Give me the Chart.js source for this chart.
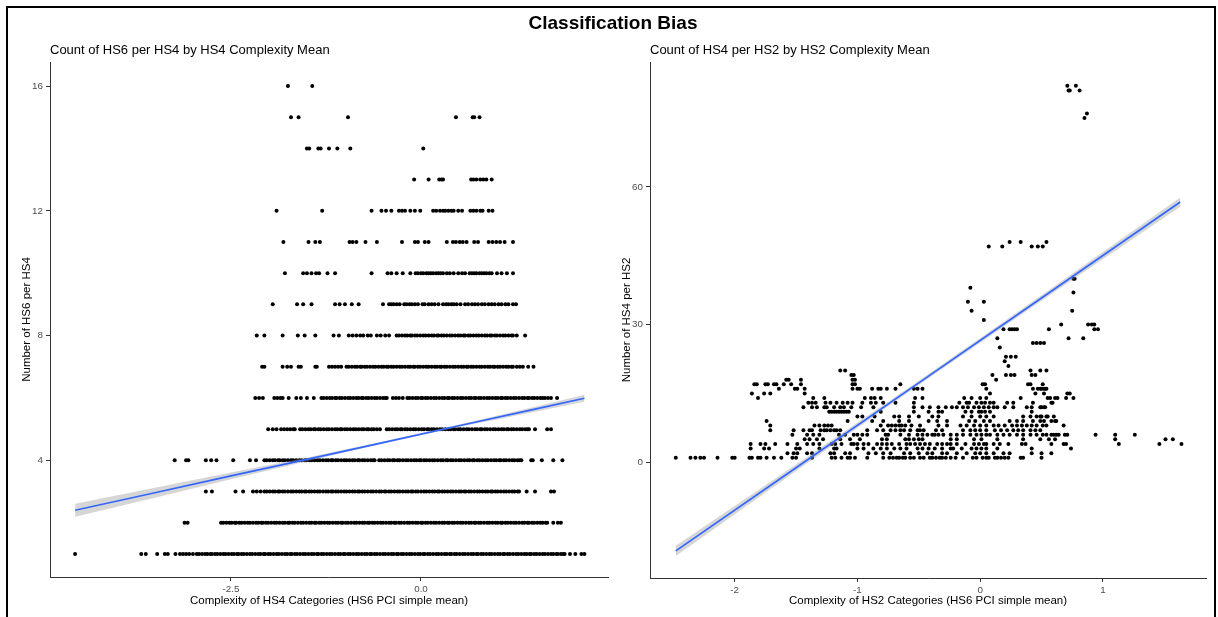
<!DOCTYPE html>
<html>
<head>
<meta charset="utf-8">
<title>Classification Bias</title>
<script src="https://cdn.jsdelivr.net/npm/chart.js@4.4.1/dist/chart.umd.min.js"></script>
<style>
  html, body { margin: 0; padding: 0; background: #fff; }
  body { width: 1218px; height: 617px; position: relative; overflow: hidden;
         font-family: "Liberation Sans", Arial, sans-serif; }
  .panel { position: absolute; top: 0; }
  #hs4Panel { left: 0; width: 612px; height: 617px; }
  #hs2Panel { left: 612px; width: 606px; height: 617px; }
  #frame { position: absolute; left: 6px; top: 6px; width: 1210px; height: 700px;
           border: 2px solid #000; box-sizing: border-box; pointer-events: none; }
  #mainTitle { position: absolute; left: 0; top: 12px; width: 1226px; text-align: center;
               font-weight: bold; font-size: 19px; line-height: 22px; color: #000; }
  .subtitle { position: absolute; top: 42px; font-size: 13px; line-height: 16px; color: #000; white-space: nowrap; }
</style>
</head>
<body>
<div id="hs4Panel" class="panel"><canvas id="hs4Chart" width="612" height="617"></canvas></div>
<div id="hs2Panel" class="panel"><canvas id="hs2Chart" width="606" height="617"></canvas></div>
<div id="mainTitle">Classification Bias</div>
<div class="subtitle" style="left:50px">Count of HS6 per HS4 by HS4 Complexity Mean</div>
<div class="subtitle" style="left:650px">Count of HS4 per HS2 by HS2 Complexity Mean</div>
<div id="frame"></div>
<script>
// ---- HS4 panel: number of HS6 codes per HS4 heading vs. mean complexity ----
const hs4Counts = [1, 2, 3, 4, 5, 6, 7, 8, 9, 10, 11, 12, 13, 14, 15, 16];
const hs4Complexity = [
  [-4.55,-3.68,-3.62,-3.47,-3.37,-3.33,-3.23,-3.17,-3.13,-3.09,-3.05,-3.00,
   -2.95,-2.92,-2.88,-2.84,-2.81,-2.77,-2.75,-2.71,-2.68,-2.64,-2.60,-2.57,-2.53,-2.49,-2.46,-2.42,-2.40,-2.36,-2.33,-2.29,-2.25,-2.22,-2.18,-2.14,-2.11,-2.07,-2.05,-2.01,-1.98,-1.94,-1.90,-1.87,-1.83,-1.79,-1.76,-1.72,-1.70,-1.66,-1.63,-1.59,-1.55,-1.52,-1.48,-1.44,-1.41,-1.37,-1.35,-1.31,-1.28,-1.24,-1.20,-1.17,-1.13,-1.09,-1.06,-1.02,-1.00,-0.96,-0.93,-0.89,-0.85,-0.82,-0.78,-0.74,-0.71,-0.67,-0.65,-0.61,-0.58,-0.54,-0.50,-0.47,-0.43,-0.39,-0.36,-0.32,-0.30,-0.26,-0.23,-0.19,-0.15,-0.12,-0.08,-0.04,-0.01,0.03,0.05,0.09,0.12,0.16,0.20,0.23,0.27,0.31,0.34,0.38,0.40,0.44,0.47,0.51,0.55,0.58,0.62,0.66,0.69,0.73,0.75,0.79,0.82,0.86,0.90,0.93,0.97,1.01,1.04,1.08,1.10,1.14,1.17,1.21,1.25,1.28,1.32,1.36,1.39,1.43,1.45,1.49,1.52,1.56,1.60,1.63,1.67,1.71,1.74,1.78,1.80,1.84,1.87,1.89,
   1.96,2.03,2.11,2.15],
  [-3.11,-3.07,
   -2.63,-2.60,-2.56,-2.52,-2.49,-2.45,-2.43,-2.39,-2.36,-2.32,-2.28,-2.25,-2.21,-2.17,-2.14,-2.10,-2.08,-2.04,-2.01,-1.97,-1.93,-1.90,-1.86,-1.82,-1.79,-1.75,-1.73,-1.69,-1.66,-1.62,-1.58,-1.55,-1.51,-1.47,-1.44,-1.40,-1.38,-1.34,-1.31,-1.27,-1.23,-1.20,-1.16,-1.12,-1.09,-1.05,-1.03,-0.99,-0.96,-0.92,-0.88,-0.85,-0.81,-0.77,-0.74,-0.70,-0.68,-0.64,-0.61,-0.57,-0.53,-0.50,-0.46,-0.42,-0.39,-0.35,-0.33,-0.29,-0.26,-0.22,-0.18,-0.15,-0.11,-0.07,-0.04,0.00,0.02,0.06,0.09,0.13,0.17,0.20,0.24,0.28,0.31,0.35,0.37,0.41,0.44,0.48,0.52,0.55,0.59,0.63,0.66,0.70,0.72,0.76,0.79,0.83,0.87,0.90,0.94,0.98,1.01,1.05,1.07,1.11,1.14,1.18,1.22,1.25,1.29,1.33,1.36,1.40,1.42,1.46,1.49,1.53,1.57,1.60,1.64,1.66,
   1.74,1.80,1.84],
  [-2.83,-2.75,-2.44,-2.34,-2.21,-2.16,-2.11,
   -2.06,-2.03,-1.99,-1.95,-1.92,-1.88,-1.86,-1.82,-1.79,-1.75,-1.71,-1.68,-1.64,-1.60,-1.57,-1.53,-1.51,-1.47,-1.44,-1.40,-1.36,-1.33,-1.29,-1.25,-1.22,-1.18,-1.16,-1.12,-1.09,-1.05,-1.01,-0.98,-0.94,-0.90,-0.87,-0.83,-0.81,-0.77,-0.74,-0.70,-0.66,-0.63,-0.59,-0.55,-0.52,-0.48,-0.46,-0.42,-0.39,-0.35,-0.31,-0.28,-0.24,-0.20,-0.17,-0.13,-0.11,-0.07,-0.04,0.00,0.04,0.07,0.11,0.15,0.18,0.22,0.24,0.28,0.31,0.35,0.39,0.42,0.46,0.50,0.53,0.57,0.59,0.63,0.66,0.70,0.74,0.77,0.81,0.85,0.88,0.92,0.94,0.98,1.01,1.05,1.09,1.12,1.16,1.20,1.23,1.27,1.29,
   1.39,1.50,1.71,1.75],
  [-3.24,-3.09,-3.06,-2.83,-2.76,-2.69,-2.47,-2.25,-2.17,
   -2.06,-2.03,-1.99,-1.95,-1.92,-1.88,-1.86,-1.82,-1.79,-1.75,-1.71,-1.68,-1.64,-1.60,-1.57,-1.53,-1.51,-1.47,-1.44,-1.40,-1.36,-1.33,-1.29,-1.25,-1.22,-1.18,-1.16,-1.12,-1.09,-1.05,-1.01,-0.98,-0.94,-0.90,-0.87,-0.83,-0.81,-0.77,-0.74,-0.70,-0.66,-0.63,-0.61,
   -0.55,-0.52,-0.48,-0.44,-0.41,-0.37,-0.35,-0.31,-0.28,-0.24,-0.20,-0.17,-0.13,-0.09,-0.06,-0.02,0.00,0.04,0.07,0.11,0.15,0.18,0.22,0.26,0.29,0.33,0.35,0.39,0.42,0.46,0.50,0.53,0.57,0.61,0.64,0.68,0.70,0.74,0.77,0.81,0.85,0.88,0.92,0.96,0.99,1.03,1.05,1.09,1.12,1.16,1.20,1.23,1.27,1.30,1.32,
   1.45,1.47,1.59,1.74,1.86],
  [-2.01,-1.95,-1.90,-1.84,-1.80,-1.76,-1.72,-1.68,-1.66,
   -1.59,-1.56,-1.52,-1.48,-1.45,-1.41,-1.39,-1.35,-1.32,-1.28,-1.24,-1.21,-1.17,-1.13,-1.10,-1.06,-1.04,-1.00,-0.97,-0.93,-0.89,-0.86,-0.82,-0.78,-0.75,-0.71,-0.69,-0.65,-0.62,-0.58,-0.54,
   -0.45,-0.42,-0.38,-0.34,-0.31,-0.27,-0.25,-0.21,-0.18,-0.14,-0.10,-0.07,-0.03,0.01,0.04,0.08,0.10,0.14,0.17,0.21,0.25,0.28,0.32,0.36,0.39,0.43,0.45,0.49,0.52,0.56,0.60,0.63,0.67,0.71,0.74,0.78,0.80,0.84,0.87,0.91,0.95,0.98,1.02,1.06,1.09,1.13,1.15,1.19,1.22,1.26,1.30,1.33,1.37,1.40,1.42,
   1.50,1.66,1.71],
  [-2.18,-2.13,-2.08,-1.93,-1.89,-1.85,-1.82,-1.74,-1.64,-1.58,-1.50,-1.41,
   -1.31,-1.28,-1.24,-1.20,-1.17,-1.13,-1.11,-1.07,-1.04,-1.00,-0.96,-0.93,-0.89,-0.85,-0.82,-0.78,-0.76,-0.72,-0.69,-0.65,-0.61,-0.58,-0.54,-0.50,-0.47,-0.45,
   -0.37,-0.33,-0.29,-0.24,
   -0.18,-0.15,-0.11,-0.07,-0.04,0.00,0.02,0.06,0.09,0.13,0.17,0.20,0.24,0.28,0.31,0.35,0.37,0.41,0.44,0.48,0.52,0.55,0.59,0.63,0.66,0.70,0.72,0.76,0.79,0.83,0.87,0.90,0.94,0.98,1.01,1.05,1.07,1.11,1.14,1.18,1.22,1.25,1.29,1.33,1.36,1.40,1.42,1.46,1.49,1.53,1.57,1.60,1.63,
   1.67,1.71,1.79],
  [-2.09,-2.06,-1.82,-1.76,-1.71,-1.61,-1.58,-1.39,-1.37,-1.21,-1.17,-1.13,-1.09,-1.05,
   -0.98,-0.95,-0.91,-0.87,-0.84,-0.80,-0.78,-0.74,-0.71,-0.67,-0.63,-0.60,-0.56,-0.52,-0.49,-0.45,-0.43,-0.39,-0.36,-0.32,-0.28,-0.25,-0.21,-0.17,-0.14,-0.10,-0.08,-0.04,-0.01,0.03,0.07,0.10,0.14,0.18,0.21,0.25,0.27,0.31,0.34,0.38,0.42,0.45,0.49,0.53,0.56,0.60,0.62,0.66,0.69,0.73,0.77,0.80,0.84,0.88,0.91,0.95,0.97,1.01,1.04,1.08,1.12,1.15,1.19,1.21,
   1.26,1.30,1.34,1.41,1.48],
  [-2.16,-2.06,-1.82,-1.62,-1.53,-1.39,-1.15,-1.08,-0.95,-0.90,-0.85,-0.80,-0.76,-0.70,-0.66,-0.58,-0.53,-0.47,-0.42,
   -0.32,-0.29,-0.25,-0.21,-0.18,-0.14,-0.12,-0.08,-0.05,-0.01,0.03,0.06,0.10,0.14,0.17,0.21,0.23,0.27,0.30,0.34,0.38,0.41,0.45,0.49,0.52,0.56,0.58,0.62,0.65,0.69,0.73,0.76,0.80,0.84,0.87,0.91,0.93,0.97,1.00,1.04,1.08,1.11,1.15,1.19,1.21,
   1.26,1.37],
  [-1.95,-1.63,-1.55,-1.44,-1.13,-1.07,-1.00,-0.91,-0.82,-0.50,-0.42,-0.39,-0.36,-0.32,-0.28,-0.22,-0.19,-0.15,-0.12,-0.08,-0.04,0.02,0.05,0.10,0.14,0.18,0.23,0.29,0.33,0.36,0.40,0.43,0.47,0.52,0.58,0.62,0.67,0.71,0.75,0.80,0.84,0.89,0.93,0.97,1.02,1.06,1.11,1.15,1.21,1.25],
  [-1.79,-1.55,-1.50,-1.44,-1.38,-1.34,-1.23,-1.13,-0.65,-0.44,-0.39,-0.32,-0.24,-0.14,-0.07,-0.04,0.00,0.03,0.07,0.10,0.13,0.16,0.20,0.23,0.26,0.29,0.34,0.38,0.43,0.49,0.54,0.58,0.64,0.67,0.70,0.73,0.77,0.80,0.83,0.86,0.90,0.93,1.00,1.06,1.13,1.21],
  [-1.81,-1.48,-1.39,-1.33,-0.94,-0.90,-0.85,-0.73,-0.58,-0.25,-0.08,-0.04,0.05,0.10,0.34,0.42,0.46,0.51,0.55,0.60,0.70,0.75,0.89,0.94,0.99,1.04,1.10,1.21],
  [-1.90,-1.30,-0.65,-0.52,-0.46,-0.39,-0.29,-0.25,-0.21,-0.14,-0.08,-0.01,0.16,0.20,0.25,0.29,0.32,0.36,0.40,0.43,0.49,0.54,0.65,0.69,0.73,0.78,0.81,0.89,0.94],
  [-0.09,0.10,0.24,0.27,0.29,0.66,0.69,0.73,0.78,0.82,0.86,0.93],
  [-1.50,-1.47,-1.35,-1.32,-1.21,-1.10,-0.93,0.03],
  [-1.71,-1.61,-0.96,0.46,0.68,0.70,0.77],
  [-1.75,-1.43]
];
// linear fit with its standard-error band
const hs4FitX  = [-4.55, -3.5, -2.5, -1.5, -0.5, 0.5, 1.5, 2.15];
const hs4FitY  = [2.40, 2.96, 3.50, 4.03, 4.57, 5.11, 5.64, 5.99];
const hs4FitSE = [0.21, 0.16, 0.11, 0.06, 0.03, 0.04, 0.08, 0.11];
const hs4TicksX = [-2.5, 0];
const hs4TicksY = [4, 8, 12, 16];

// ---- HS2 panel: number of HS4 headings per HS2 chapter vs. mean complexity ----
const hs2Counts = [1,2,3,4,5,6,7,8,9,10,11,12,13,14,15,16,17,18,19,20,21,22,23,25,26,27,29,30,31,33,35,37,38,40,47,48,75,76,81,82];
const hs2Complexity = [
  [-2.48,-2.36,-2.32,-2.28,-2.25,-2.14,-2.02,-2.00,-1.88,-1.86,-1.81,-1.79,-1.74,-1.68,-1.62,-1.53,-1.50,-1.37,-1.21,-1.18,-1.13,-1.08,-1.06,-1.02,-0.92,-0.79,-0.74,-0.71,-0.68,-0.66,-0.63,-0.61,-0.57,-0.54,-0.49,-0.46,-0.41,-0.39,-0.36,-0.33,-0.31,-0.28,-0.24,-0.20,-0.14,-0.06,-0.03,0.02,0.05,0.07,0.12,0.14,0.17,0.20,0.23,0.33,0.35,0.50],
  [-1.57,-1.52,-1.49,-1.41,-1.37,-1.22,-1.19,-1.10,-1.06,-0.91,-0.85,-0.79,-0.73,-0.62,-0.57,-0.50,-0.43,-0.39,-0.31,-0.27,-0.19,-0.11,-0.04,0.00,0.05,0.11,0.19,0.24,0.42,0.50,0.58],
  [-1.87,-1.76,-1.72,-1.50,-1.47,-1.31,-1.19,-1.17,-1.00,-0.95,-0.87,-0.81,-0.76,-0.70,-0.65,-0.60,-0.51,-0.47,-0.42,-0.37,-0.31,-0.24,-0.22,-0.15,-0.07,-0.03,0.01,0.05,0.14,0.42,0.74],
  [-1.87,-1.79,-1.75,-1.67,-1.57,-1.49,-1.41,-1.36,-1.31,-1.21,-1.18,-1.13,-1.05,-1.03,-1.00,-0.95,-0.91,-0.84,-0.80,-0.76,-0.72,-0.66,-0.60,-0.57,-0.53,-0.49,-0.45,-0.41,-0.35,-0.31,-0.27,-0.24,-0.19,-0.12,-0.05,-0.01,0.03,0.05,0.11,0.16,0.23,0.34,0.37,0.58,0.68,0.70,1.13,1.46,1.64],
  [-1.43,-1.39,-1.33,-1.28,-1.14,-1.06,-0.98,-0.80,-0.76,-0.61,-0.58,-0.54,-0.50,-0.47,-0.24,-0.19,-0.05,0.01,0.14,0.35,0.49,0.56,0.61,1.10,1.51,1.57],
  [-1.53,-1.41,-1.36,-1.31,-1.15,-1.10,-1.03,-1.00,-0.96,-0.92,-0.77,-0.75,-0.65,-0.58,-0.51,-0.47,-0.43,-0.39,-0.37,-0.34,-0.30,-0.24,-0.19,-0.14,-0.08,-0.03,0.01,0.05,0.08,0.14,0.19,0.24,0.30,0.35,0.41,0.46,0.51,0.54,0.58,0.60,0.62,0.64,0.69,0.71,0.94,1.10,1.26],
  [-1.71,-1.52,-1.44,-1.39,-1.37,-1.30,-1.27,-1.25,-1.22,-1.19,-1.17,-1.14,-0.92,-0.84,-0.79,-0.73,-0.69,-0.65,-0.62,-0.57,-0.51,-0.49,-0.46,-0.36,-0.31,-0.14,-0.08,-0.04,0.00,0.05,0.12,0.17,0.22,0.27,0.31,0.35,0.41,0.45,0.49],
  [-1.71,-1.35,-1.31,-1.27,-1.24,-1.21,-0.81,-0.75,-0.72,-0.69,-0.66,-0.64,-0.61,-0.56,-0.49,-0.34,-0.27,-0.16,-0.11,-0.05,0.00,0.05,0.11,0.15,0.20,0.26,0.30,0.34,0.38,0.42,0.46,0.51,0.54,0.68],
  [-1.74,-1.08,-0.88,-0.79,-0.66,-0.58,-0.42,-0.35,-0.27,-0.09,-0.04,0.03,0.08,0.24,0.30,0.35,0.43,0.49,0.52,0.58,0.61,0.62],
  [-1.00,-0.96,-0.86,-0.70,-0.66,-0.58,-0.50,-0.39,-0.34,-0.14,-0.07,0.00,0.05,0.11,0.35,0.41,0.46,0.49,0.50,0.54,0.55,0.60],
  [-1.23,-1.21,-1.19,-1.17,-1.15,-1.13,-1.11,-1.09,-1.07,-0.81,-0.54,-0.42,-0.34,-0.31,-0.12,-0.07,-0.01,0.01,0.04,0.08,0.42],
  [-1.44,-1.37,-1.33,-1.27,-1.25,-1.19,-1.14,-1.11,-1.05,-0.97,-0.87,-0.54,-0.47,-0.41,-0.34,-0.28,-0.23,-0.19,-0.14,-0.10,-0.05,-0.01,0.03,0.07,0.11,0.14,0.20,0.27,0.38,0.42,0.49,0.50,0.52,0.53],
  [-1.40,-1.37,-1.34,-1.26,-1.22,-1.17,-1.12,-1.08,-1.04,-0.96,-0.89,-0.85,-0.79,-0.69,-0.54,-0.17,-0.11,-0.09,-0.03,0.01,0.04,0.08,0.11,0.22,0.27,0.43,0.58,0.59],
  [-1.81,-1.36,-1.27,-0.94,-0.89,-0.86,-0.81,-0.53,-0.47,-0.13,-0.07,0.00,0.05,0.33,0.55,0.57,0.61,0.63,0.70,0.76],
  [-1.86,-1.76,-1.71,-1.43,0.08,0.45,0.52,0.71,0.73],
  [-1.64,-1.51,-1.49,-1.43,-1.04,-1.00,-0.98,-0.88,-0.83,-0.81,-0.76,-0.69,-0.54,-0.51,-0.47,0.05,0.43,0.47,0.49,0.50,0.52,0.53,0.54],
  [-1.84,-1.82,-1.75,-1.73,-1.68,-1.66,-1.60,-1.54,-1.46,-1.04,-1.02,-0.65,0.02,0.04,0.39,0.41,0.51],
  [-1.58,-1.56,-1.46,-1.04,-1.02,0.13],
  [-1.05,-1.03,0.10,0.21,0.25,0.28,0.42,0.45],
  [-1.14,-1.10,0.41,0.49,0.54],
  [0.23],
  [0.20],
  [0.21,0.25,0.29],
  [0.16],
  [0.43,0.46,0.49,0.52],
  [0.14,0.72,0.84],
  [0.19,0.24,0.26,0.28,0.30,0.56,0.93,0.96],
  [0.66,0.88,0.91,0.93],
  [0.03],
  [-0.07,0.75],
  [-0.10,0.03],
  [0.76],
  [-0.08],
  [0.76,0.77],
  [0.07,0.18,0.42,0.47,0.51],
  [0.24,0.33,0.54],
  [0.85],
  [0.87],
  [0.72,0.73,0.81],
  [0.71,0.78]
];
const hs2FitX  = [-2.48, -1.5, -0.5, 0.5, 1.63];
const hs2FitY  = [-19.3, -1.18, 17.31, 35.80, 56.69];
const hs2FitSE = [1.1, 0.7, 0.45, 0.6, 1.0];
const hs2TicksX = [-2, -1, 0, 1];
const hs2TicksY = [0, 30, 60];

// ---- shared drawing helpers ----
const FONT = "'Liberation Sans', Arial, sans-serif";
Chart.defaults.font.family = FONT;

function toPoints(counts, complexity) {
  const pts = [];
  counts.forEach((c, i) => complexity[i].forEach(x => pts.push({ x: x, y: c })));
  return pts;
}
function fitLine(xs, ys, se, k) {
  return xs.map((x, i) => ({ x: x, y: ys[i] + k * se[i] }));
}

function axis(o) {
  const s = {
    type: 'linear',
    min: o.min, max: o.max,
    afterBuildTicks: sc => { sc.ticks = o.ticks.map(v => ({ value: v })); },
    ticks: { color: '#4d4d4d', font: { size: 9.8 }, padding: o.pad, maxRotation: 0, autoSkip: false,
             callback: o.fmt },
    grid: { display: true, drawOnChartArea: false, drawTicks: true, tickLength: 4, color: '#333', lineWidth: 1 },
    border: { display: true, color: '#333', width: 1 },
    title: { display: true, text: o.title, color: '#000', font: { size: 11.5 }, padding: o.titlePad }
  };
  s.afterFit = o.fit;
  return s;
}

function drawPanel(id, cfg) {
  return new Chart(document.getElementById(id), {
    type: 'scatter',
    data: {
      datasets: [
        { data: fitLine(cfg.fitX, cfg.fitY, cfg.fitSE, 0), showLine: true, borderColor: '#3366FF',
          borderWidth: 1.7, pointRadius: 0, fill: false, order: 0 },
        { data: fitLine(cfg.fitX, cfg.fitY, cfg.fitSE, 1), showLine: true, borderWidth: 0,
          borderColor: 'rgba(0,0,0,0)', pointRadius: 0, fill: '+1',
          backgroundColor: 'rgba(153,153,153,0.4)', order: 1 },
        { data: fitLine(cfg.fitX, cfg.fitY, cfg.fitSE, -1), showLine: true, borderWidth: 0,
          borderColor: 'rgba(0,0,0,0)', pointRadius: 0, fill: false, order: 2 },
        { data: toPoints(cfg.counts, cfg.complexity), pointRadius: 2, pointBackgroundColor: '#000',
          pointBorderWidth: 0, order: 3 }
      ]
    },
    options: {
      responsive: false,
      animation: false,
      events: [],
      layout: { padding: { top: 62, left: 0, right: cfg.padRight, bottom: 0 } },
      plugins: { legend: { display: false }, tooltip: { enabled: false } },
      scales: {
        x: axis({ min: cfg.xMin, max: cfg.xMax, ticks: cfg.xTicks, fmt: cfg.xFmt, pad: 2,
                  title: cfg.xTitle, titlePad: { top: 0, bottom: 9 },
                  fit: sc => { sc.height = cfg.xHeight; } }),
        y: axis({ min: cfg.yMin, max: cfg.yMax, ticks: cfg.yTicks, fmt: v => String(v), pad: 3,
                  title: cfg.yTitle, titlePad: { top: cfg.yTitleOffset, bottom: 0 },
                  fit: sc => { sc.width = cfg.yWidth; } })
      }
    }
  });
}

drawPanel('hs4Chart', {
  counts: hs4Counts, complexity: hs4Complexity,
  fitX: hs4FitX, fitY: hs4FitY, fitSE: hs4FitSE,
  xMin: -4.88, xMax: 2.46, yMin: 0.26, yMax: 16.77,
  xTicks: hs4TicksX, yTicks: hs4TicksY, xFmt: v => Number(v).toFixed(1),
  xTitle: 'Complexity of HS4 Categories (HS6 PCI simple mean)',
  yTitle: 'Number of HS6 per HS4',
  padRight: 4, yWidth: 50, xHeight: 40, yTitleOffset: 20
});

drawPanel('hs2Chart', {
  counts: hs2Counts, complexity: hs2Complexity,
  fitX: hs2FitX, fitY: hs2FitY, fitSE: hs2FitSE,
  xMin: -2.69, xMax: 1.84, yMin: -25.2, yMax: 87.2,
  xTicks: hs2TicksX, yTicks: hs2TicksY, xFmt: v => String(v),
  xTitle: 'Complexity of HS2 Categories (HS6 PCI simple mean)',
  yTitle: 'Number of HS4 per HS2',
  padRight: 12, yWidth: 38, xHeight: 39, yTitleOffset: 8
});
</script>
</body>
</html>
